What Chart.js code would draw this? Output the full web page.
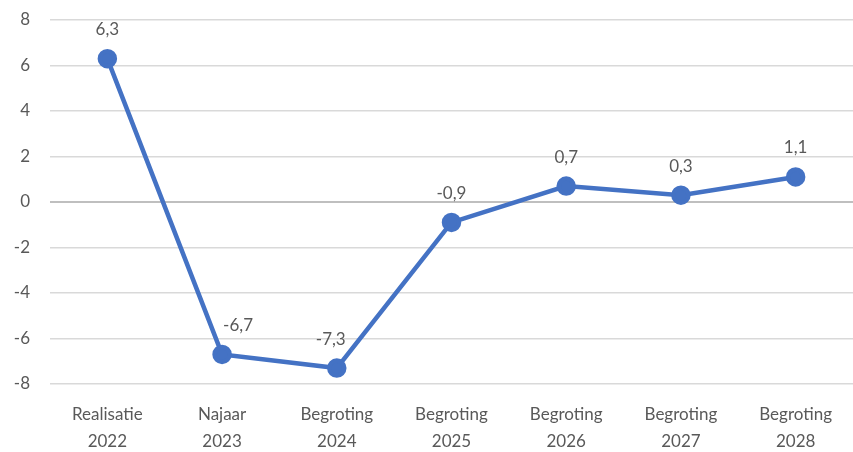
<!DOCTYPE html>
<html>
<head>
<meta charset="utf-8">
<script src="https://cdn.jsdelivr.net/npm/chart.js@4"></script>
<style>
  html, body { margin: 0; padding: 0; background: #fff; }
  #wrap { width: 853px; height: 452px; }
</style>
</head>
<body>
<div id="wrap"><canvas id="saldoChart"></canvas></div>
<script>
// Data
const categories = [
  ['Realisatie', '2022'], ['Najaar', '2023'], ['Begroting', '2024'], ['Begroting', '2025'],
  ['Begroting', '2026'], ['Begroting', '2027'], ['Begroting', '2028']
];
const values = [6.3, -6.7, -7.3, -0.9, 0.7, 0.3, 1.1];
const yTicks = [-8, -6, -4, -2, 0, 2, 4, 6, 8];

const textColor = '#595959';
const lineColor = '#4472C4';
const fontFamily = 'Lato, "Open Sans", sans-serif';

// value labels above each point (comma decimals); a couple nudged sideways like the original
const pointLabels = {
  id: 'pointLabels',
  afterDatasetsDraw(chart) {
    const c = chart.ctx;
    const meta = chart.getDatasetMeta(0);
    const nudge = { 1: 16, 2: -6 };
    c.save();
    c.font = '17px ' + fontFamily;
    c.fillStyle = textColor;
    c.textAlign = 'center';
    c.textBaseline = 'middle';
    meta.data.forEach((pt, i) => {
      c.fillText(values[i].toFixed(1).replace('.', ','), pt.x + (nudge[i] || 0), pt.y - 29);
    });
    c.restore();
  }
};

const ctx = document.getElementById('saldoChart');
new Chart(ctx, {
  type: 'line',
  data: {
    labels: categories,
    datasets: [{
      data: values,
      borderColor: lineColor,
      backgroundColor: lineColor,
      borderWidth: 4.5,
      pointRadius: 7.5,
      pointHoverRadius: 7.5,
      tension: 0
    }]
  },
  options: {
    responsive: true,
    maintainAspectRatio: false,
    animation: false,
    layout: { autoPadding: false, padding: { top: 20, right: 0, bottom: 0, left: 0 } },
    plugins: {
      legend: { display: false },
      tooltip: { enabled: false }
    },
    scales: {
      x: {
        offset: true,
        grid: { display: false },
        border: { display: false },
        ticks: {
          color: textColor,
          font: { family: fontFamily, size: 17, lineHeight: 1.6 },
          padding: 9,
          maxRotation: 0,
          autoSkip: false
        },
        afterFit(scale) {
          scale.height = 68;
          scale.paddingLeft = 0;
          scale.paddingRight = 0;
        }
      },
      y: {
        min: -8,
        max: 8,
        afterBuildTicks(scale) { scale.ticks = yTicks.map(v => ({ value: v })); },
        grid: {
          drawTicks: false,
          color: c => c.tick && c.tick.value === 0 ? '#bfbfbf' : '#d9d9d9',
          lineWidth: c => c.tick && c.tick.value === 0 ? 2 : 1.5
        },
        border: { display: false },
        ticks: {
          color: textColor,
          font: { family: fontFamily, size: 17 },
          padding: 20
        },
        afterFit(scale) {
          scale.width = 50;
          scale.paddingTop = 0;
          scale.paddingBottom = 0;
        }
      }
    }
  },
  plugins: [pointLabels]
});
</script>
</body>
</html>
